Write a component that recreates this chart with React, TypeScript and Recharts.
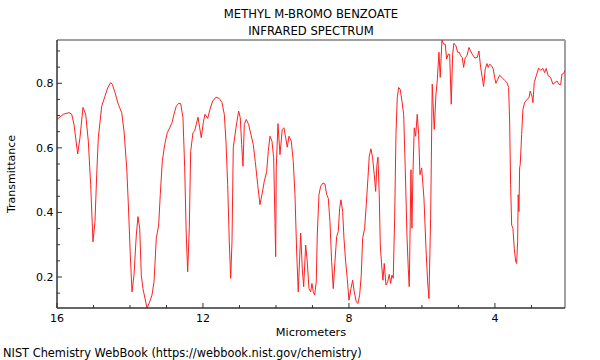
import React from 'react';
import { LineChart, Line, XAxis, YAxis, ReferenceLine } from 'recharts';

// Wavelength in micrometers (x) and transmittance (y)
const wavelength = [
  16.0, 15.827, 15.671, 15.597, 15.534, 15.433, 15.37, 15.288, 15.214, 15.142,
  15.077, 15.014, 14.959, 14.912, 14.868, 14.775, 14.685, 14.611, 14.529, 14.485,
  14.411, 14.321, 14.227, 14.164, 14.09, 14.047, 13.992, 13.945, 13.89, 13.827,
  13.781, 13.734, 13.69, 13.644, 13.597, 13.534, 13.46, 13.397, 13.342, 13.279,
  13.214, 13.17, 13.115, 13.049, 12.978, 12.912, 12.849, 12.795, 12.732, 12.666,
  12.611, 12.548, 12.501, 12.458, 12.419, 12.375, 12.337, 12.274, 12.227, 12.184,
  12.137, 12.09, 12.047, 11.992, 11.945, 11.871, 11.808, 11.734, 11.644, 11.553,
  11.479, 11.416, 11.37, 11.323, 11.279, 11.241, 11.205, 11.17, 11.096, 11.022,
  10.978, 10.94, 10.904, 10.868, 10.814, 10.748, 10.685, 10.622, 10.567, 10.501,
  10.438, 10.384, 10.321, 10.255, 10.211, 10.164, 10.11, 10.063, 10.027, 10.008,
  9.992, 9.945, 9.89, 9.827, 9.781, 9.734, 9.69, 9.644, 9.581, 9.526,
  9.479, 9.433, 9.389, 9.323, 9.279, 9.241, 9.186, 9.142, 9.096, 9.049,
  9.014, 8.978, 8.94, 8.896, 8.868, 8.822, 8.775, 8.712, 8.658, 8.611,
  8.567, 8.521, 8.474, 8.43, 8.384, 8.337, 8.293, 8.255, 8.219, 8.173,
  8.137, 8.09, 8.047, 8.0, 7.945, 7.899, 7.855, 7.8, 7.753, 7.707,
  7.663, 7.625, 7.57, 7.526, 7.479, 7.444, 7.397, 7.351, 7.307, 7.268,
  7.233, 7.205, 7.17, 7.142, 7.104, 7.068, 7.033, 6.986, 6.94, 6.896,
  6.858, 6.822, 6.786, 6.748, 6.712, 6.677, 6.638, 6.595, 6.548, 6.501,
  6.458, 6.411, 6.375, 6.348, 6.321, 6.301, 6.274, 6.247, 6.211, 6.173,
  6.129, 6.09, 6.055, 6.008, 5.945, 5.89, 5.844, 5.808, 5.762, 5.718,
  5.663, 5.616, 5.581, 5.534, 5.499, 5.452, 5.406, 5.362, 5.323, 5.279,
  5.241, 5.197, 5.159, 5.123, 5.068, 5.022, 4.978, 4.94, 4.896, 4.858,
  4.814, 4.767, 4.712, 4.666, 4.611, 4.548, 4.485, 4.438, 4.392, 4.348,
  4.31, 4.266, 4.219, 4.184, 4.145, 4.09, 4.047, 4.008, 3.973, 3.926,
  3.871, 3.808, 3.734, 3.671, 3.625, 3.597, 3.57, 3.542, 3.507, 3.471,
  3.433, 3.405, 3.378, 3.362, 3.342, 3.323, 3.307, 3.268, 3.233, 3.186,
  3.123, 3.068, 3.033, 2.986, 2.959, 2.923, 2.868, 2.803, 2.748, 2.685,
  2.638, 2.595, 2.54, 2.474, 2.411, 2.356, 2.301, 2.247, 2.2, 2.164,
  2.118, 2.083,
];

const transmittance = [
  0.688, 0.704, 0.709, 0.704, 0.672, 0.581, 0.632, 0.725, 0.704, 0.621,
  0.486, 0.309, 0.372, 0.517, 0.631, 0.729, 0.760, 0.786, 0.802, 0.797,
  0.771, 0.735, 0.709, 0.652, 0.538, 0.43, 0.27, 0.154, 0.206, 0.330,
  0.387, 0.351, 0.206, 0.164, 0.138, 0.104, 0.123, 0.144, 0.185, 0.320,
  0.361, 0.455, 0.558, 0.610, 0.647, 0.662, 0.678, 0.704, 0.729, 0.738,
  0.737, 0.693, 0.538, 0.330, 0.216, 0.351, 0.589, 0.647, 0.652, 0.672,
  0.695, 0.662, 0.631, 0.678, 0.704, 0.691, 0.719, 0.745, 0.757, 0.753,
  0.740, 0.704, 0.621, 0.486, 0.309, 0.196, 0.309, 0.600, 0.662, 0.714,
  0.693, 0.610, 0.543, 0.672, 0.688, 0.672, 0.641, 0.610, 0.558, 0.486,
  0.424, 0.455, 0.496, 0.527, 0.589, 0.636, 0.621, 0.569, 0.372, 0.263,
  0.538, 0.675, 0.579, 0.657, 0.662, 0.631, 0.602, 0.636, 0.621, 0.558,
  0.455, 0.278, 0.154, 0.336, 0.227, 0.170, 0.299, 0.247, 0.164, 0.154,
  0.180, 0.154, 0.144, 0.185, 0.330, 0.455, 0.481, 0.491, 0.488, 0.455,
  0.444, 0.372, 0.247, 0.164, 0.247, 0.325, 0.341, 0.413, 0.439, 0.403,
  0.320, 0.247, 0.196, 0.128, 0.164, 0.190, 0.154, 0.123, 0.118, 0.144,
  0.206, 0.320, 0.351, 0.424, 0.507, 0.574, 0.597, 0.569, 0.517, 0.465,
  0.548, 0.571, 0.455, 0.299, 0.237, 0.190, 0.242, 0.175, 0.185, 0.208,
  0.180, 0.206, 0.196, 0.382, 0.641, 0.755, 0.787, 0.781, 0.745, 0.704,
  0.538, 0.330, 0.227, 0.170, 0.372, 0.532, 0.351, 0.517, 0.662, 0.636,
  0.704, 0.641, 0.517, 0.538, 0.444, 0.289, 0.185, 0.133, 0.382, 0.797,
  0.657, 0.766, 0.807, 0.896, 0.818, 0.934, 0.921, 0.921, 0.875, 0.890,
  0.890, 0.735, 0.890, 0.924, 0.916, 0.896, 0.896, 0.885, 0.880, 0.849,
  0.880, 0.885, 0.911, 0.900, 0.888, 0.878, 0.880, 0.900, 0.849, 0.818,
  0.790, 0.844, 0.861, 0.849, 0.859, 0.854, 0.844, 0.818, 0.800, 0.812,
  0.825, 0.818, 0.809, 0.802, 0.787, 0.683, 0.486, 0.361, 0.351, 0.289,
  0.249, 0.242, 0.309, 0.455, 0.403, 0.538, 0.548, 0.641, 0.719, 0.740,
  0.750, 0.755, 0.776, 0.760, 0.740, 0.802, 0.823, 0.847, 0.840, 0.846,
  0.833, 0.846, 0.823, 0.818, 0.797, 0.802, 0.807, 0.797, 0.795, 0.828,
  0.830, 0.839,
];

const xMajorTicks = [16, 12, 8, 4];
const xAllTicks = [16, 15, 14, 13, 12, 11, 10, 9, 8, 7, 6, 5, 4, 3];
const yMajorTicks = [0.2, 0.4, 0.6, 0.8];
const yAllTicks = [0.15, 0.2, 0.25, 0.3, 0.35, 0.4, 0.45, 0.5, 0.55, 0.6, 0.65, 0.7, 0.75, 0.8, 0.85, 0.9];
const xDomain = [2.08, 16];
const yDomain = [0.104, 0.934];

const titleLines = ['METHYL M-BROMO BENZOATE', 'INFRARED SPECTRUM'];
const xLabel = 'Micrometers';
const yLabel = 'Transmittance';
const footer = 'NIST Chemistry WebBook (https://webbook.nist.gov/chemistry)';

const data = wavelength.map((um, i) => ({ um, t: transmittance[i] }));

const FONT = '"DejaVu Sans", sans-serif';
const AXIS = '#333';
const FRAME = '#a0a0a0';
const FS = 11;

function XTick(props: any) {
  const { x, y, payload } = props;
  const v = payload.value;
  const major = xMajorTicks.some((m) => Math.abs(m - v) < 1e-6);
  return (
    <g>
      <line x1={x} x2={x} y1={y} y2={y - (major ? 5 : 3)} stroke={AXIS} strokeWidth={1} />
      {major && (
        <text x={x} y={y + 14} textAnchor="middle" fontSize={FS} fill="#000" fontFamily={FONT}>
          {v}
        </text>
      )}
    </g>
  );
}

function YTick(props: any) {
  const { x, y, payload } = props;
  const v = payload.value;
  const major = yMajorTicks.some((m) => Math.abs(m - v) < 1e-6);
  return (
    <g>
      <line x1={x} x2={x + (major ? 5 : 3)} y1={y} y2={y} stroke={AXIS} strokeWidth={1} />
      {major && (
        <text x={x - 3.5} y={y + 4} textAnchor="end" fontSize={FS} fill="#000" fontFamily={FONT}>
          {v.toFixed(1)}
        </text>
      )}
    </g>
  );
}

export default function App() {
  return (
    <div style={{ position: 'absolute', left: 0, top: 0, width: 600, height: 360, background: '#fff', fontFamily: FONT }}>
      <LineChart width={600} height={360} data={data} margin={{ top: 40, right: 35, bottom: 0, left: 0 }}>
        <XAxis
          dataKey="um"
          type="number"
          domain={xDomain}
          reversed
          allowDataOverflow
          ticks={xAllTicks}
          interval={0}
          tickSize={0}
          tickMargin={0}
          tick={(p: any) => <XTick {...p} />}
          height={52}
          axisLine={{ stroke: AXIS, strokeWidth: 1.5 }}
        />
        <YAxis
          type="number"
          domain={yDomain}
          allowDataOverflow
          ticks={yAllTicks}
          interval={0}
          tickSize={0}
          tickMargin={0}
          tick={(p: any) => <YTick {...p} />}
          width={57}
          axisLine={{ stroke: AXIS, strokeWidth: 1.5 }}
        />
        <ReferenceLine y={yDomain[1]} stroke={FRAME} strokeWidth={2} ifOverflow="visible" />
        <ReferenceLine x={xDomain[0]} stroke={FRAME} strokeWidth={2} ifOverflow="visible" />
        <Line
          type="linear"
          dataKey="t"
          stroke="#ff2020"
          strokeWidth={1}
          dot={false}
          activeDot={false}
          isAnimationActive={false}
        />
      </LineChart>
      <svg width={600} height={360} style={{ position: 'absolute', left: 0, top: 0, pointerEvents: 'none' }}>
        <g fontFamily={FONT} fill="#000">
          <text x={311} y={17.5} textAnchor="middle" fontSize={11.6}>{titleLines[0]}</text>
          <text x={311} y={34.5} textAnchor="middle" fontSize={11.6}>{titleLines[1]}</text>
          <text x={311} y={335.5} textAnchor="middle" fontSize={11.3}>{xLabel}</text>
          <text transform="translate(14.5,174) rotate(-90)" textAnchor="middle" fontSize={11}>{yLabel}</text>
          <text x={3} y={356.5} textAnchor="start" fontSize={11.4}>{footer}</text>
        </g>
      </svg>
    </div>
  );
}
